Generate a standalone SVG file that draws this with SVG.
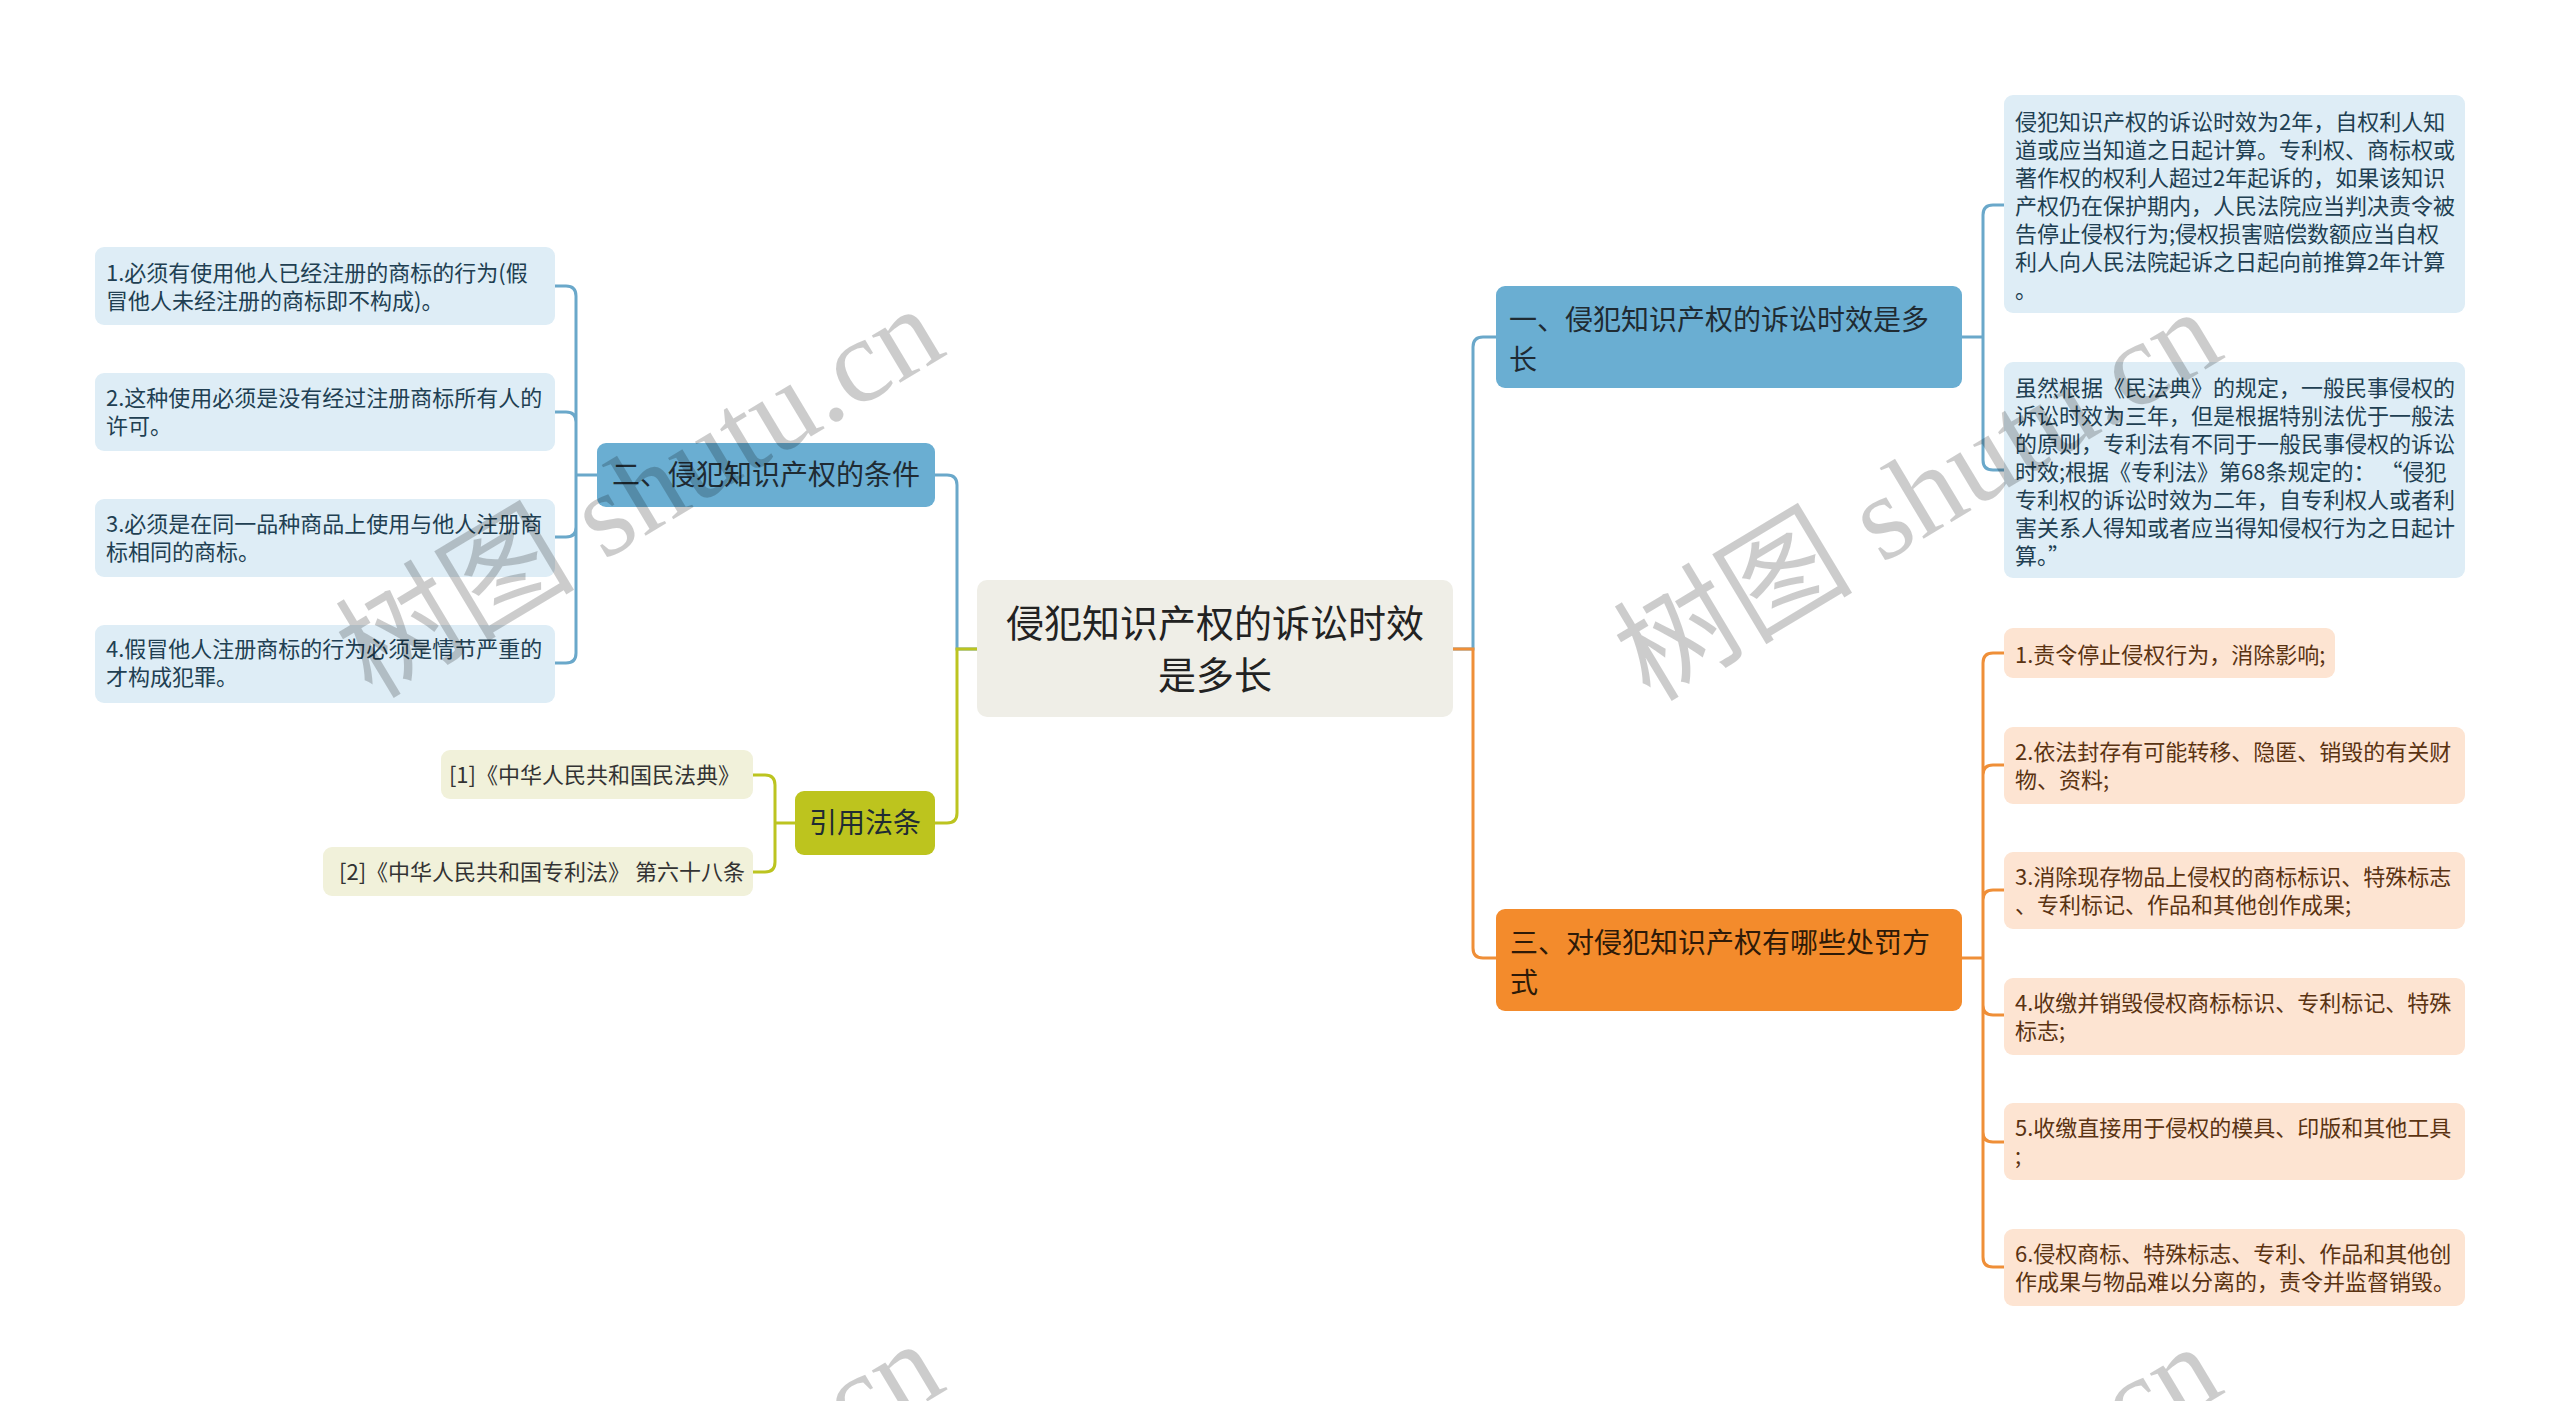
<svg xmlns="http://www.w3.org/2000/svg" width="2560" height="1401" viewBox="0 0 2560 1401">
<style>
text{font-family:"Noto Sans CJK SC","Liberation Sans",sans-serif}
.root{fill:#efeee7}
.blue{fill:#6aaed2}
.orange{fill:#f38b2c}
.olive{fill:#bdc41e}
.bleaf{fill:#deedf6}
.oleaf{fill:#fde4d2}
.rleaf{fill:#f1f1da}
.t-root{font-size:38px;fill:#222;text-anchor:middle}
.t-main{font-size:28px;fill:#1f2b33}
.t-main-o{font-size:28px;fill:#2e1a08}
.t-bl{font-size:22px;fill:#213f52}
.t-ol{font-size:22px;fill:#5a3312}
.t-rl{font-size:22px;fill:#333}
.c-blue{fill:none;stroke:#6aa8ca;stroke-width:3}
.c-orange{fill:none;stroke:#ef8f38;stroke-width:3}
.c-olive{fill:none;stroke:#bcc420;stroke-width:3}
.wm{font-family:"Liberation Serif","Noto Sans CJK SC",serif;font-size:120px;fill:#000;fill-opacity:0.2}
</style>
<rect width="2560" height="1401" fill="#fff"/>
<g id="connectors">
<path class="c-blue" d="M1453,649 H1473 V347 Q1473,337 1483,337 H1496"/>
<path class="c-orange" d="M1453,649 H1473 V948 Q1473,958 1483,958 H1496"/>
<path class="c-blue" d="M977,649 H957 V485 Q957,475 947,475 H935"/>
<path class="c-olive" d="M977,649 H957 V813 Q957,823 947,823 H935"/>
<path class="c-blue" d="M1962,337 H1983 V215 Q1983,205 1993,205 H2004 M1983,337 V460 Q1983,470 1993,470 H2004"/>
<path class="c-orange" d="M1962,958 H1983 V663 Q1983,653 1993,653 H2004 M1983,958 V775 Q1983,765 1993,765 H2004 M1983,958 V900 Q1983,890 1993,890 H2004 M1983,958 V1005 Q1983,1015 1993,1015 H2004 M1983,958 V1132 Q1983,1142 1993,1142 H2004 M1983,958 V1257 Q1983,1267 1993,1267 H2004"/>
<path class="c-blue" d="M597,475 H576 V296 Q576,286 566,286 H555 M576,475 V422 Q576,412 566,412 H555 M576,475 V527 Q576,537 566,537 H555 M576,475 V653 Q576,663 566,663 H555"/>
<path class="c-olive" d="M795,823 H775 V785 Q775,775 765,775 H753 M775,823 V862 Q775,872 765,872 H753"/>
</g>
<g id="root">
<rect class="root" x="977" y="580" width="476" height="137" rx="10"/>
<text class="t-root" x="1215" y="637">侵犯知识产权的诉讼时效</text>
<text class="t-root" x="1215" y="689">是多长</text>
</g>
<g id="n1">
<rect class="blue" x="1496" y="286" width="466" height="102" rx="9"/>
<text class="t-main" x="1509" y="330">一、侵犯知识产权的诉讼时效是多</text>
<text class="t-main" x="1509" y="370">长</text>
</g>
<g id="n1a">
<rect class="bleaf" x="2004" y="95" width="461" height="218" rx="9"/>
<text class="t-bl" x="2015" y="130">侵犯知识产权的诉讼时效为2年，自权利人知</text>
<text class="t-bl" x="2015" y="158">道或应当知道之日起计算。专利权、商标权或</text>
<text class="t-bl" x="2015" y="186">著作权的权利人超过2年起诉的，如果该知识</text>
<text class="t-bl" x="2015" y="214">产权仍在保护期内，人民法院应当判决责令被</text>
<text class="t-bl" x="2015" y="242">告停止侵权行为;侵权损害赔偿数额应当自权</text>
<text class="t-bl" x="2015" y="270">利人向人民法院起诉之日起向前推算2年计算</text>
<text class="t-bl" x="2015" y="298">。</text>
</g>
<g id="n1b">
<rect class="bleaf" x="2004" y="362" width="461" height="216" rx="9"/>
<text class="t-bl" x="2015" y="396">虽然根据《民法典》的规定，一般民事侵权的</text>
<text class="t-bl" x="2015" y="424">诉讼时效为三年，但是根据特别法优于一般法</text>
<text class="t-bl" x="2015" y="452">的原则，专利法有不同于一般民事侵权的诉讼</text>
<text class="t-bl" x="2015" y="480">时效;根据《专利法》第68条规定的： “侵犯</text>
<text class="t-bl" x="2015" y="508">专利权的诉讼时效为二年，自专利权人或者利</text>
<text class="t-bl" x="2015" y="536">害关系人得知或者应当得知侵权行为之日起计</text>
<text class="t-bl" x="2015" y="564">算。”</text>
</g>
<g id="n3">
<rect class="orange" x="1496" y="909" width="466" height="102" rx="9"/>
<text class="t-main-o" x="1510" y="953">三、对侵犯知识产权有哪些处罚方</text>
<text class="t-main-o" x="1510" y="993">式</text>
</g>
<g id="n3a">
<rect class="oleaf" x="2004" y="628" width="331" height="50" rx="9"/>
<text class="t-ol" x="2015" y="663">1.责令停止侵权行为，消除影响;</text>
</g>
<g id="n3b">
<rect class="oleaf" x="2004" y="727" width="461" height="77" rx="9"/>
<text class="t-ol" x="2015" y="760">2.依法封存有可能转移、隐匿、销毁的有关财</text>
<text class="t-ol" x="2015" y="788">物、资料;</text>
</g>
<g id="n3c">
<rect class="oleaf" x="2004" y="852" width="461" height="77" rx="9"/>
<text class="t-ol" x="2015" y="885">3.消除现存物品上侵权的商标标识、特殊标志</text>
<text class="t-ol" x="2015" y="913">、专利标记、作品和其他创作成果;</text>
</g>
<g id="n3d">
<rect class="oleaf" x="2004" y="978" width="461" height="77" rx="9"/>
<text class="t-ol" x="2015" y="1011">4.收缴并销毁侵权商标标识、专利标记、特殊</text>
<text class="t-ol" x="2015" y="1039">标志;</text>
</g>
<g id="n3e">
<rect class="oleaf" x="2004" y="1103" width="461" height="77" rx="9"/>
<text class="t-ol" x="2015" y="1136">5.收缴直接用于侵权的模具、印版和其他工具</text>
<text class="t-ol" x="2015" y="1164">;</text>
</g>
<g id="n3f">
<rect class="oleaf" x="2004" y="1229" width="461" height="77" rx="9"/>
<text class="t-ol" x="2015" y="1262">6.侵权商标、特殊标志、专利、作品和其他创</text>
<text class="t-ol" x="2015" y="1290">作成果与物品难以分离的，责令并监督销毁。</text>
</g>
<g id="n2">
<rect class="blue" x="597" y="443" width="338" height="64" rx="9"/>
<text class="t-main" x="612" y="485">二、侵犯知识产权的条件</text>
</g>
<g id="n2a">
<rect class="bleaf" x="95" y="247" width="460" height="78" rx="9"/>
<text class="t-bl" x="106" y="281">1.必须有使用他人已经注册的商标的行为(假</text>
<text class="t-bl" x="106" y="309">冒他人未经注册的商标即不构成)。</text>
</g>
<g id="n2b">
<rect class="bleaf" x="95" y="373" width="460" height="78" rx="9"/>
<text class="t-bl" x="106" y="406">2.这种使用必须是没有经过注册商标所有人的</text>
<text class="t-bl" x="106" y="434">许可。</text>
</g>
<g id="n2c">
<rect class="bleaf" x="95" y="499" width="460" height="78" rx="9"/>
<text class="t-bl" x="106" y="532">3.必须是在同一品种商品上使用与他人注册商</text>
<text class="t-bl" x="106" y="560">标相同的商标。</text>
</g>
<g id="n2d">
<rect class="bleaf" x="95" y="625" width="460" height="78" rx="9"/>
<text class="t-bl" x="106" y="657">4.假冒他人注册商标的行为必须是情节严重的</text>
<text class="t-bl" x="106" y="685">才构成犯罪。</text>
</g>
<g id="n4">
<rect class="olive" x="795" y="791" width="140" height="64" rx="9"/>
<text class="t-main" x="865" y="833" text-anchor="middle">引用法条</text>
</g>
<g id="n4a">
<rect class="rleaf" x="441" y="750" width="312" height="49" rx="9"/>
<text class="t-rl" x="740" y="783" text-anchor="end">[1]《中华人民共和国民法典》</text>
</g>
<g id="n4b">
<rect class="rleaf" x="323" y="847" width="430" height="49" rx="9"/>
<text class="t-rl" x="745" y="880" text-anchor="end">[2]《中华人民共和国专利法》 第六十八条</text>
</g>
<g id="watermarks">
<text class="wm" x="372" y="700" transform="rotate(-31 372 700)">树图 shutu.cn</text>
<text class="wm" x="1650" y="703" transform="rotate(-31 1650 703)">树图 shutu.cn</text>
<text class="wm" x="372" y="1735" transform="rotate(-31 372 1735)">树图 shutu.cn</text>
<text class="wm" x="1650" y="1738" transform="rotate(-31 1650 1738)">树图 shutu.cn</text>
</g>
</svg>
